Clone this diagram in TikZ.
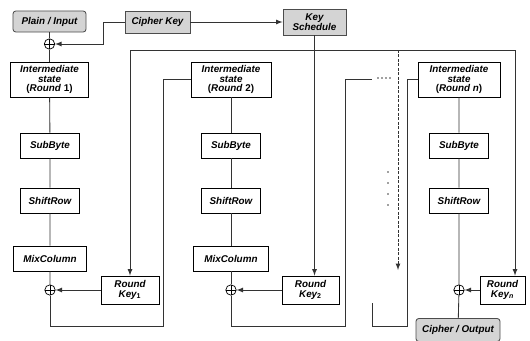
\documentclass[tikz,border=0pt]{standalone}
\usepackage{fontspec}
\setmainfont{Liberation Sans}
\usetikzlibrary{arrows,positioning}

\begin{document}
\begin{tikzpicture}[x=0.25mm,y=-0.25mm,>=latex,
		blk/.style={draw,line width=0.6pt,fill=white,inner sep=0pt,align=center,
			font=\fontsize{7}{7}\selectfont\bfseries\itshape},
		gblk/.style={blk,fill=black!17,draw=black!70},
		xorop/.style={circle,draw,line width=0.5pt,minimum size=2.6mm,inner sep=0pt,
			path picture={\draw[line width=0.5pt] (path picture bounding box.north)--(path picture bounding box.south)
				(path picture bounding box.west)--(path picture bounding box.east);}},
		wire/.style={draw=black!80,line width=0.6pt}]
		\useasboundingbox (0,0) rectangle (530,340);
		\node[gblk,rounded corners=2pt,minimum width=18.25mm,minimum height=5.25mm] (plain) at (49.5,21.5) {Plain / Input};
		\node[gblk,minimum width=16.25mm,minimum height=5.5mm] (ckey) at (157.5,22) {Cipher Key};
		\node[gblk,minimum width=15.75mm,minimum height=6.5mm] (ksched) at (314.5,22) {Key\\Schedule};
		\node[xorop] (x0) at (49.5,44) {};
		\node[blk,minimum width=19.5mm,minimum height=8.75mm] (int1) at (49.5,79.5) {Intermediate\\state\\\textup{(}Round \textup{1)}};
		\node[blk,minimum width=14.75mm,minimum height=6.25mm] (sub1) at (50,145.5) {SubByte};
		\node[blk,minimum width=14.75mm,minimum height=6.25mm] (shift1) at (50,200.5) {ShiftRow};
		\node[blk,minimum width=18.25mm,minimum height=6.25mm] (mix1) at (50,258.5) {MixColumn};
		\node[xorop] (x1) at (50,290) {};
		\node[blk,minimum width=14.5mm,minimum height=7mm] (rk1) at (130,290) {Round\\Key\textsubscript{\upshape 1}};
		\node[blk,minimum width=20mm,minimum height=8.75mm] (int2) at (231,79.5) {Intermediate\\state\\\textup{(}Round \textup{2)}};
		\node[blk,minimum width=14.75mm,minimum height=6.25mm] (sub2) at (231,145.5) {SubByte};
		\node[blk,minimum width=14.75mm,minimum height=6.25mm] (shift2) at (231,200.5) {ShiftRow};
		\node[blk,minimum width=18.75mm,minimum height=6.25mm] (mix2) at (231,258.5) {MixColumn};
		\node[xorop] (x2) at (231,290) {};
		\node[blk,minimum width=14.25mm,minimum height=7mm] (rk2) at (310.5,290) {Round\\Key\textsubscript{\upshape 2}};
		\node[blk,minimum width=20.5mm,minimum height=8.75mm] (intn) at (459,79.5) {Intermediate\\state\\\textup{(}Round n\textup{)}};
		\node[blk,minimum width=14.75mm,minimum height=6.25mm] (subn) at (459,145.5) {SubByte};
		\node[blk,minimum width=14.75mm,minimum height=6.25mm] (shiftn) at (459,200.5) {ShiftRow};
		\node[xorop] (xn) at (459,290) {};
		\node[blk,minimum width=11.25mm,minimum height=7mm] (rkn) at (502.5,290) {Round\\Key\textsubscript{n}};
		\node[gblk,rounded corners=2pt,minimum width=21mm,minimum height=5.75mm] (out) at (458,330) {Cipher / Output};
		\coordinate (ck) at (103,22);
		\coordinate (kl) at (130,50);
		\coordinate (kr) at (515,50);
		\coordinate (kd) at (398,50);
		\coordinate (kde) at (398,270);
		\coordinate (fb1) at (163,326);
		\coordinate (fb2) at (345,326);
		\coordinate (d2) at (372,79.5);
		\coordinate (fn0) at (372,303);
		\coordinate (fn1) at (407,326);
		\draw[wire,->] (ckey) -- (ksched);
		\draw[wire,->] (ckey.west) -- (ck) |- (x0);
		\draw[wire] (plain) -- (x0) -- (int1);
		\draw[wire] (int1) -- (sub1) -- (shift1) -- (mix1) -- (x1);
		\draw[wire] (int2) -- (sub2) -- (shift2) -- (mix2) -- (x2);
		\draw[wire] (intn) -- (subn) -- (shiftn) -- (xn) -- (out);
		\draw[wire] (kl) -- (kr);
		\draw[wire,->] (kl) -- (rk1);
		\draw[wire,->] (ksched.south) -- (ksched.south |- rk2.north);
		\draw[wire,->] (kr) -- (kr |- rkn.north);
		\draw[wire,dash pattern=on 2pt off 1.2pt,->] (kd) -- (kde);
		\draw[wire,->] (rk1) -- (x1);
		\draw[wire,->] (rk2) -- (x2);
		\draw[wire,->] (rkn) -- (xn);
		\draw[wire] (x1) |- (fb1) |- (int2.west);
		\draw[wire] (x2) |- (fb2) |- (d2);
		\draw[wire] (fn0) |- (fn1) |- (intn.west);
		\foreach \x in {378,382,386,390}
			\fill[black!75] (\x,78) circle (0.2mm);
		\foreach \y in {172,183,194,205}
			\fill[black!75] (388,\y) circle (0.22mm);
	\end{tikzpicture}
\end{document}
